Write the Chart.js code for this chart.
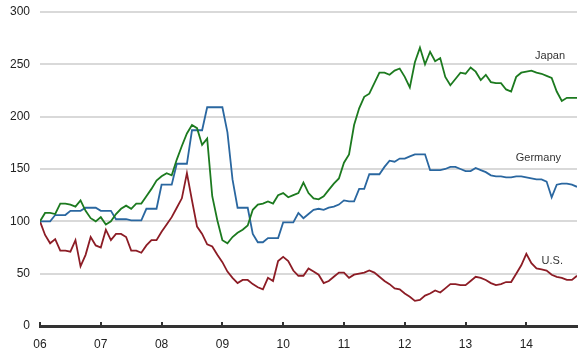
<!DOCTYPE html>
<html>
<head>
<meta charset="utf-8">
<script src="https://cdn.jsdelivr.net/npm/chart.js@4"></script>
<style>
html,body{margin:0;padding:0;background:#fff;}
#wrap{width:586px;height:358px;}
</style>
</head>
<body>
<div id="wrap"><canvas id="c" width="586" height="358"></canvas></div>
<script>
// Year tick labels (one per January)
const yearLabels = ['06','07','08','09','10','11','12','13','14'];
const seriesNames = ['Japan','Germany','U.S.'];

// Monthly index values, Jan 2006 .. Nov 2014
const japan = [
  100,108,108,107,117,117,116,114,120,110,103,100,
  104,97,100,107,112,115,112,117,117,124,131,139,
  143,146,144,159,172,184,192,189,173,179,124,101,
  82,79,85,89,92,96,111,116,117,119,117,125,
  127,123,125,127,137,127,122,121,124,130,136,141,
  156,164,192,208,219,222,232,242,242,240,244,246,
  238,228,252,266,250,262,253,256,238,230,236,242,
  241,247,243,235,240,233,232,232,226,224,238,242,
  243,244,242,241,239,237,224,215,218,218,218
];
const germany = [
  100,100,100,106,106,106,110,110,110,113,113,113,
  110,110,110,102,102,102,101,101,101,112,112,112,
  135,135,135,155,155,155,187,187,187,209,209,209,
  209,185,140,113,113,113,88,80,80,84,84,84,
  99,99,99,108,103,107,111,112,111,113,114,116,
  120,119,119,131,131,145,145,145,152,158,157,160,
  160,162,164,164,164,149,149,149,150,152,152,150,
  148,148,151,149,147,144,143,143,142,142,143,143,
  142,141,140,140,138,123,135,136,136,135,133
];
const us = [
  100,87,79,83,72,72,71,82,57,68,85,77,
  75,92,82,88,88,85,72,72,70,77,82,82,
  90,97,104,113,122,146,120,95,88,78,76,68,
  61,52,46,41,44,44,40,37,35,46,43,62,
  66,62,53,48,48,55,52,49,41,43,47,51,
  51,46,49,50,51,53,51,47,43,40,36,35,
  31,28,24,25,29,31,34,32,36,40,40,39,
  39,43,47,46,44,41,39,40,42,42,50,58,
  69,60,55,54,53,49,47,46,44,44,48
];
const yTicks = [0,50,100,150,200,250,300];

const toPts = arr => arr.map((v,i)=>({x:i,y:v}));
const colors = ['#1c7a1f','#2a67a0','#8c1c25'];

const FONT = '"Liberation Sans", Arial, Helvetica, sans-serif';

const decorPlugin = {
  id:'decor',
  afterDatasetsDraw(chart){
    const ctx = chart.ctx;
    const xs = chart.scales.x, ys = chart.scales.y;
    const area = chart.chartArea;
    // upward tick marks on the x axis
    ctx.save();
    ctx.strokeStyle = '#333';
    ctx.lineWidth = 2;
    yearLabels.forEach((l,k)=>{
      const px = Math.round(xs.getPixelForValue(k*12));
      ctx.beginPath();
      ctx.moveTo(px, area.bottom);
      ctx.lineTo(px, area.bottom-4);
      ctx.stroke();
    });
    // series labels
    ctx.fillStyle = '#333';
    ctx.font = '11px ' + FONT;
    ctx.textAlign = 'right';
    ctx.textBaseline = 'middle';
    const right = area.right - 12;
    ctx.fillText(seriesNames[0], right, ys.getPixelForValue(258));
    ctx.fillText(seriesNames[1], right - 4, ys.getPixelForValue(161));
    ctx.fillText(seriesNames[2], right - 2, ys.getPixelForValue(62));
    ctx.restore();
  }
};

new Chart(document.getElementById('c'), {
  type:'line',
  data:{
    datasets:[
      {label:seriesNames[0], data:toPts(japan), borderColor:colors[0]},
      {label:seriesNames[1], data:toPts(germany), borderColor:colors[1]},
      {label:seriesNames[2], data:toPts(us), borderColor:colors[2]}
    ].map(d=>Object.assign(d,{borderWidth:1.8,pointRadius:0,tension:0,fill:false}))
  },
  options:{
    responsive:false,
    animation:false,
    layout:{padding:{left:10,right:9,top:12,bottom:0}},
    plugins:{legend:{display:false},tooltip:{enabled:false}},
    scales:{
      x:{
        type:'linear', min:0, max:japan.length-1,
        afterFit:(s)=>{ s.height = 32; s.paddingLeft = 0; s.paddingRight = 0; },
        grid:{display:false, drawTicks:false},
        border:{display:true,color:'#333',width:3},
        ticks:{
          stepSize:12, includeBounds:false, autoSkip:false, maxRotation:0,
          padding:11, color:'#222', font:{family:FONT,size:12},
          callback:(v)=> (v%12===0 ? yearLabels[v/12] : '')
        }
      },
      y:{
        min:0,max:300,
        afterFit:(s)=>{ s.width = 30; s.paddingTop = 0; s.paddingBottom = 0; },
        afterBuildTicks:(s)=>{ s.ticks = yTicks.map(v=>({value:v})); },
        grid:{color:(c)=> c.tick && c.tick.value===0 ? 'rgba(0,0,0,0)' : '#d9d9d9', lineWidth:2, drawTicks:false},
        border:{display:false},
        ticks:{padding:10,color:'#222',font:{family:FONT,size:12}}
      }
    }
  },
  plugins:[decorPlugin]
});
</script>
</body>
</html>
